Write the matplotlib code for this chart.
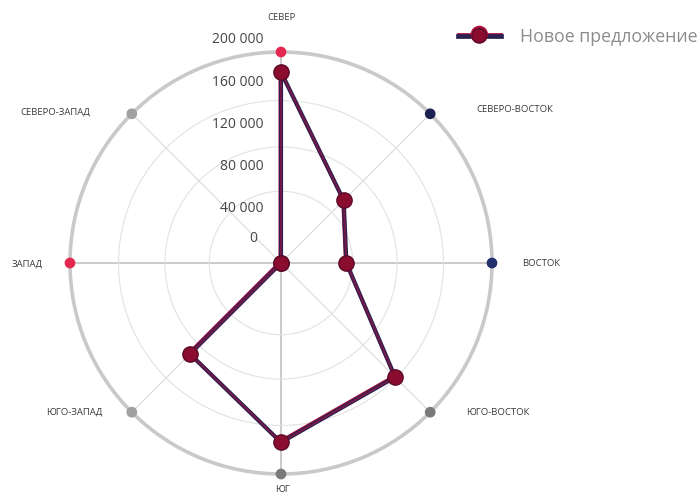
import numpy as np
import matplotlib
matplotlib.use("Agg")
import matplotlib.pyplot as plt
import matplotlib.patheffects as pe
from matplotlib.transforms import offset_copy
from matplotlib.lines import Line2D

plt.rcParams['font.family'] = ['Open Sans', 'DejaVu Sans']

# направления и объёмы нового предложения
directions = ['СЕВЕР', 'СЕВЕРО-ВОСТОК', 'ВОСТОК', 'ЮГО-ВОСТОК',
              'ЮГ', 'ЮГО-ЗАПАД', 'ЗАПАД', 'СЕВЕРО-ЗАПАД']
supply = [181000, 84000, 62000, 153000, 170000, 122000, 0, 0]
series_name = 'Новое предложение'

r_ticks = [0, 40000, 80000, 120000, 160000, 200000]
r_tick_labels = ['0', '40 000', '80 000', '120 000', '160 000', '200 000']
ring_values = [68000, 110000, 154000]
r_max = 200000

# цвет точки направления на внешнем кольце
dir_colors = ['#e4284f', '#1b2152', '#23306e', '#7a7a7a',
              '#7a7a7a', '#a0a0a0', '#e4284f', '#a0a0a0']
# сдвиг подписи направления от точки на кольце, пиксели
label_shift = [(0, 35), (85, 4), (49, -1), (68, 0),
               (1, -15), (-57, 0), (-43, -1), (-76, 2)]

fig = plt.figure(figsize=(6.98, 4.95), dpi=100)
fig.patch.set_facecolor('white')
ax = fig.add_axes([70/698, 21/495, 422/698, 422/495], projection='polar')
ax.set_theta_zero_location('N')
ax.set_theta_direction(-1)

angles = np.linspace(0, 2*np.pi, len(directions), endpoint=False)
ax.set_xticks(angles)
ax.set_xticklabels([])
ax.set_ylim(0, r_max)
ax.set_yticks(ring_values)
ax.set_yticklabels([])
ax.tick_params(length=0)

ax.spines['polar'].set_color('#c9c9c9')
ax.spines['polar'].set_linewidth(2.6)
ax.yaxis.grid(True, color='#e2e2e2', lw=0.8)
ax.xaxis.grid(True)
for i, gl in enumerate(ax.xaxis.get_gridlines()):
    if i % 2 == 0:
        gl.set_color('#c6c6c6')
        gl.set_linewidth(1.3)
    else:
        gl.set_color('#e0e0e0')
        gl.set_linewidth(1.0)

# ломаная нового предложения: тёмно-синяя основа и красная кромка
th = np.append(angles, angles[0])
vals = np.append(supply, supply[0])
ax.plot(th, vals, color='#2a2150', lw=3.0, zorder=4,
        path_effects=[pe.Stroke(offset=(-0.9, 0.9), linewidth=1.8, foreground='#b3123f'),
                      pe.Normal()])
ax.plot(th, vals, color='#b3123f', lw=1.4, alpha=0.55, zorder=4)
ax.plot(angles, supply, ls='none', marker='o', ms=11, color='#8a0d30',
        mec='#5a0a26', mew=1.0, zorder=5)

# точки направлений на внешнем кольце
ax.scatter(angles, [r_max]*len(angles), s=45, c=dir_colors, zorder=6, clip_on=False)

# подписи направлений
for a, name, (dx, dy) in zip(angles, directions, label_shift):
    tr = offset_copy(ax.transData, fig=fig, x=dx, y=dy, units='dots')
    ax.text(a, r_max, name, transform=tr, ha='center', va='center',
            fontsize=6.8, color='#3a3a3a', clip_on=False)

# шкала значений над центром
for v, lab in zip(r_ticks, r_tick_labels):
    lift = 24 if v == 0 else 12
    shift = -24 if v == 0 else -17
    tr = offset_copy(ax.transData, fig=fig, x=shift, y=lift, units='dots')
    ax.text(0, v, lab, transform=tr, ha='right', va='center',
            fontsize=10, color='#444444', clip_on=False, zorder=7)

handle = Line2D([], [], color='#2a2150', lw=3.4, marker='o', ms=10.5,
                mfc='#8a0d30', mec='#5a0a26',
                path_effects=[pe.Stroke(offset=(0, 1.0), linewidth=2.0, foreground='#b3123f'),
                              pe.Normal()])
fig.legend([handle], [series_name], loc='center left',
           bbox_to_anchor=(458/698, 1 - 37/495), frameon=False,
           handlelength=2.4, handletextpad=1.1, borderpad=0, borderaxespad=0,
           prop={'size': 12.8}, labelcolor='#8c8c8c')

fig.savefig('out.png', dpi=100, facecolor='white')
